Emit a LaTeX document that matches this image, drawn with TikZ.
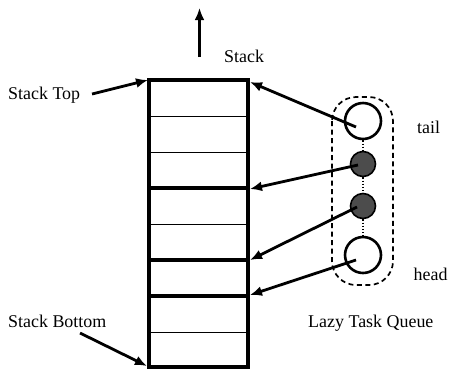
\documentclass[tikz,border=0pt]{standalone}
\usepackage{fontspec}
\setmainfont{Liberation Serif}
\usetikzlibrary{arrows.meta}
\begin{document}
\begin{tikzpicture}[x=1bp,y=-1bp,
  arr/.style={line width=2.8bp,-{Latex[length=12bp,width=10bp]}},
  lbl/.style={font=\fontsize{18}{20}\selectfont,inner sep=0pt,anchor=base west},
  thinrow/.style={line width=1bp},
  thickrow/.style={line width=3.4bp},
  opencirc/.style={circle,draw,line width=2.6bp,minimum size=36bp,inner sep=0pt},
  fullcirc/.style={circle,draw,line width=1.6bp,fill=black!70,minimum size=25bp,inner sep=0pt}]
\useasboundingbox (0,0) rectangle (449,368);
% stack
\draw[line width=3.4bp] (149,80) rectangle (248,367);
\foreach \y in {116,152,224,332} \draw[thinrow] (149,\y) -- (248,\y);
\foreach \y in {188,260,296} \draw[thickrow] (149,\y) -- (248,\y);
\coordinate (topL) at (148,80);
\coordinate (topR) at (250,82);
\coordinate (r188) at (250,189);
\coordinate (r260) at (250,260);
\coordinate (r296) at (250,295);
\coordinate (botL) at (147,366);
% growth arrow
\coordinate (upS) at (199.5,57);
\coordinate (upE) at (199.5,8);
\draw[arr] (upS) -- (upE);
% labels
\node[lbl] (stk) at (224,62.5) {Stack};
\node[lbl] (stop) at (8,99) {Stack Top};
\node[lbl] (sbot) at (8,327) {Stack Bottom};
\node[lbl] (ltq) at (308,327) {Lazy Task Queue};
\node[lbl] (tl) at (417,133) {tail};
\node[lbl] (hd) at (413.5,280) {head};
\coordinate (stopS) at (92,94);
\coordinate (sbotS) at (80,333);
\draw[arr] (stopS) -- (topL);
\draw[arr] (sbotS) -- (botL);
% queue
\draw[dashed,dash pattern=on 5bp off 3.5bp,line width=1.7bp,rounded corners=24bp] (332,97) rectangle (393,285);
\node[opencirc] (c1) at (363,121) {};
\node[fullcirc] (c2) at (363,164) {};
\node[fullcirc] (c3) at (363,206) {};
\node[opencirc] (c4) at (363,255) {};
\draw[dotted,line width=1.2bp] (c1) -- (c2);
\draw[dotted,line width=1.2bp] (c2) -- (c3);
\draw[dotted,line width=1.2bp] (c3) -- (c4);
\coordinate (s1) at (356,127);
\coordinate (s2) at (358,165);
\coordinate (s3) at (357,207);
\coordinate (s4) at (356,260);
\draw[arr] (s1) -- (topR);
\draw[arr] (s2) -- (r188);
\draw[arr] (s3) -- (r260);
\draw[arr] (s4) -- (r296);
\end{tikzpicture}
\end{document}
